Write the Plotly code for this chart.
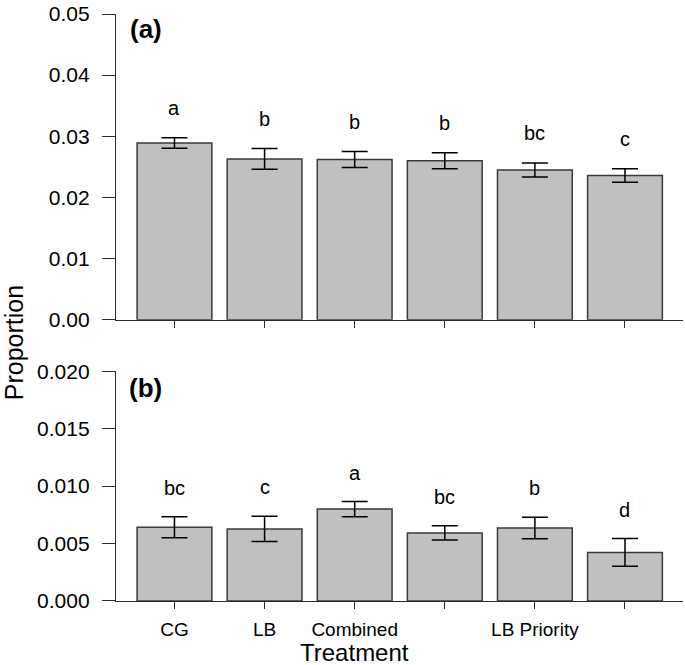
import plotly.graph_objects as go

# ---- data ----
tick_labels = ["CG", "LB", "Combined", "", "LB Priority", ""]
a_means = [0.0289, 0.0263, 0.0262, 0.0260, 0.0245, 0.0236]
a_se = [0.00086, 0.0017, 0.0013, 0.0013, 0.00115, 0.0011]
a_letters = ["a", "b", "b", "b", "bc", "c"]
b_means = [0.00642, 0.00627, 0.00800, 0.00593, 0.00636, 0.00423]
b_se = [0.00092, 0.0011, 0.00066, 0.00063, 0.00094, 0.0012]
b_letters = ["bc", "c", "a", "bc", "b", "d"]
a_ticks = [0.00, 0.01, 0.02, 0.03, 0.04, 0.05]
b_ticks = [0.000, 0.005, 0.010, 0.015, 0.020]

xpos = list(range(len(tick_labels)))

FONT = "Liberation Sans, Arial, sans-serif"
BAR_FILL = "#c0c0c0"
BAR_LINE = "#3a3a3a"
AX = "#2a2a2a"

fig = go.Figure()

def add_bars(means, se, xa, ya):
    fig.add_trace(go.Bar(
        x=xpos, y=means, width=0.83,
        marker=dict(color=BAR_FILL, line=dict(color=BAR_LINE, width=1.5)),
        error_y=dict(type="data", array=se, visible=True, color="black",
                     thickness=1.5, width=13),
        xaxis=xa, yaxis=ya, showlegend=False, hoverinfo="skip",
    ))

add_bars(a_means, a_se, "x", "y")
add_bars(b_means, b_se, "x2", "y2")

annotations = []
for i, (m, s, t) in enumerate(zip(a_means, a_se, a_letters)):
    annotations.append(dict(x=i, y=m + s, xref="x", yref="y", text=t, showarrow=False,
                            yshift=30, yanchor="middle", font=dict(size=20, color="black", family=FONT)))
for i, (m, s, t) in enumerate(zip(b_means, b_se, b_letters)):
    annotations.append(dict(x=i, y=m + s, xref="x2", yref="y2", text=t, showarrow=False,
                            yshift=29, yanchor="middle", font=dict(size=20, color="black", family=FONT)))

annotations += [
    dict(x=0.0529, y=0.9747, xref="paper", yref="paper", text="<b>(a)</b>", showarrow=False,
         xanchor="center", yanchor="middle", font=dict(size=26, color="black", family=FONT)),
    dict(x=0.0529, y=0.3632, xref="paper", yref="paper", text="<b>(b)</b>", showarrow=False,
         xanchor="center", yanchor="middle", font=dict(size=26, color="black", family=FONT)),
    dict(x=-0.1799, y=0.4409, xref="paper", yref="paper", text="Proportion", showarrow=False,
         textangle=-90, xanchor="center", yanchor="middle", font=dict(size=25, color="black", family=FONT)),
    dict(x=2, y=-0.0878, xref="x2", yref="paper", text="Treatment", showarrow=False,
         xanchor="center", yanchor="middle", font=dict(size=24, color="black", family=FONT)),
]

xr = [-0.649, 5.644]
common_x = dict(range=xr, showline=True, linecolor=AX, linewidth=1.3, ticks="outside",
                ticklen=7, tickwidth=1.3, tickcolor=AX, tickvals=xpos, showgrid=False,
                zeroline=False, domain=[0, 1])
common_y = dict(showline=True, linecolor=AX, linewidth=1.3, ticks="outside", ticklen=13,
                tickwidth=1.3, tickcolor=AX, showgrid=False, zeroline=False,
                tickfont=dict(size=21, color="black", family=FONT), ticklabelstandoff=8)

fig.update_layout(
    width=685, height=665,
    margin=dict(l=116, r=2, t=9, b=64),
    paper_bgcolor="white", plot_bgcolor="white",
    font=dict(family=FONT, color="black"),
    bargap=0.17,
    xaxis=dict(**common_x, anchor="y", showticklabels=False),
    xaxis2=dict(**common_x, anchor="y2", ticktext=tick_labels,
                tickfont=dict(size=19, color="black", family=FONT), ticklabelstandoff=4),
    yaxis=dict(**common_y, domain=[0.4792, 1], range=[0, 0.05], tickvals=a_ticks,
               tickformat=".2f", anchor="x"),
    yaxis2=dict(**common_y, domain=[0, 0.3914], range=[0, 0.020], tickvals=b_ticks,
                tickformat=".3f", anchor="x2"),
    annotations=annotations,
)

fig.write_html("out.html", config={"displayModeBar": False},
               post_script="document.body.style.margin='0';document.body.style.overflow='hidden';")
